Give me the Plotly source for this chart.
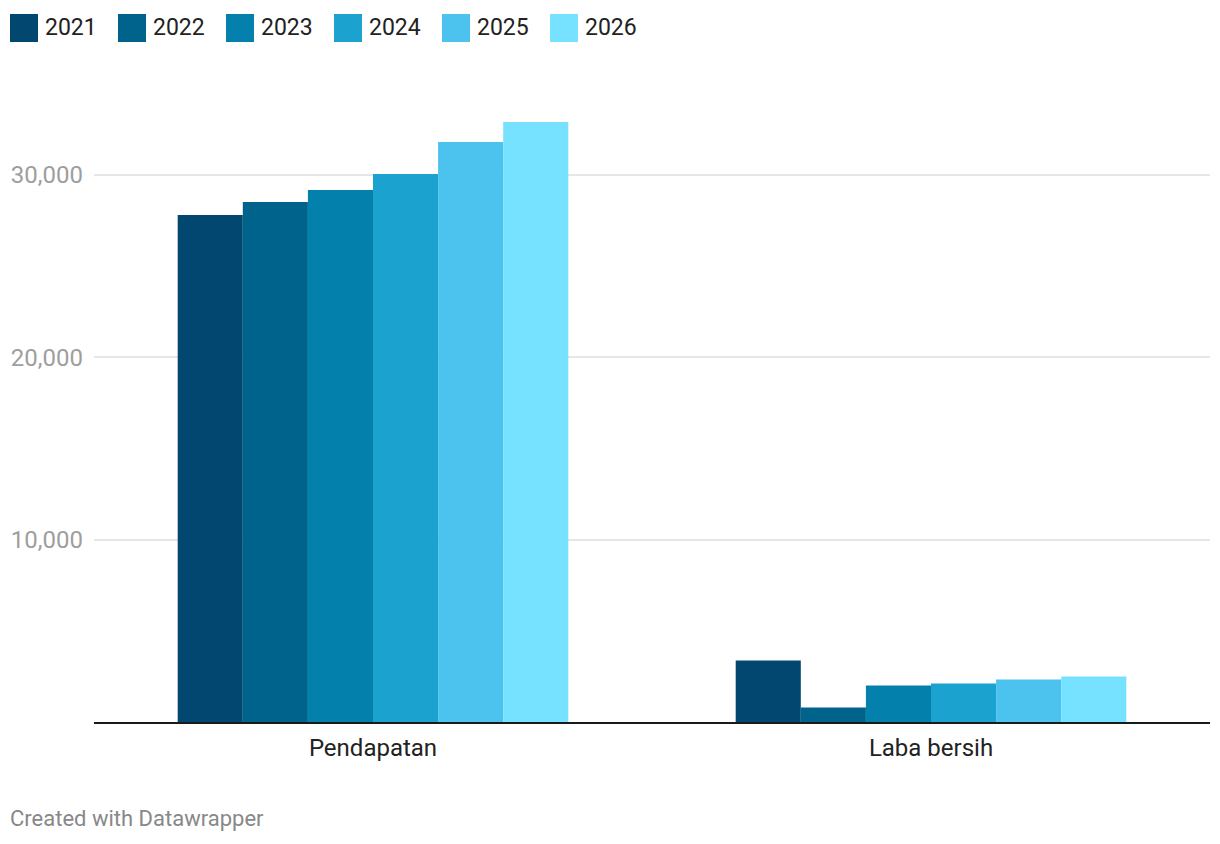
import plotly.graph_objects as go

categories = ["Pendapatan", "Laba bersih"]
years = ["2021", "2022", "2023", "2024", "2025", "2026"]
values_2021 = [27800, 3370]
values_2022 = [28510, 790]
values_2023 = [29170, 2000]
values_2024 = [30050, 2110]
values_2025 = [31810, 2330]
values_2026 = [32900, 2500]
series = [values_2021, values_2022, values_2023, values_2024, values_2025, values_2026]
colors = ["#02476f", "#00638b", "#0380ab", "#1ba2cf", "#4cc2ee", "#77e2ff"]
y_ticks = [10000, 20000, 30000]
y_tick_labels = ["10,000", "20,000", "30,000"]

W, H = 1220, 844
L, R, T, B = 94, 10, 102, 122
PW, PH = W - L - R, H - T - B


def px_x(p):
    return (p - L) / PW


def px_y(p):
    return (H - B - p) / PH


fig = go.Figure()
for yr, vals, col in zip(years, series, colors):
    fig.add_trace(go.Bar(name=yr, x=categories, y=vals, marker=dict(color=col, line=dict(width=0)),
                         showlegend=False))

shapes = []
annotations = []
for i, (yr, col) in enumerate(zip(years, colors)):
    x0 = 10 + i * 108
    shapes.append(dict(type="rect", xref="paper", yref="paper",
                       x0=px_x(x0), x1=px_x(x0 + 28), y0=px_y(42), y1=px_y(14),
                       fillcolor=col, line=dict(width=0)))
    annotations.append(dict(text=yr, xref="paper", yref="paper", x=px_x(x0 + 33), y=px_y(27),
                            xanchor="left", yanchor="middle", showarrow=False,
                            font=dict(family="Roboto", size=23, color="#222222")))

annotations.append(dict(text="Created with Datawrapper", xref="paper", yref="paper",
                        x=px_x(8), y=px_y(818), xanchor="left", yanchor="middle", showarrow=False,
                        font=dict(family="Roboto", size=22, color="#888888")))

fig.update_layout(
    width=W, height=H,
    margin=dict(l=L, r=R, t=T, b=B, pad=0),
    paper_bgcolor="white", plot_bgcolor="white",
    barmode="group", bargap=0.3, bargroupgap=0,
    font=dict(family="Roboto", size=24, color="#222222"),
    shapes=shapes, annotations=annotations,
    xaxis=dict(showgrid=False, showline=True, linecolor="#1a1a1a", linewidth=2,
               ticks="", tickfont=dict(size=24, color="#222222"), ticklabelstandoff=3,
               zeroline=False),
    yaxis=dict(range=[0, 34000], tickvals=y_ticks, ticktext=y_tick_labels,
               showgrid=True, gridcolor="#e6e6e6", gridwidth=2, zeroline=False,
               showline=False, ticks="", ticklabelstandoff=10,
               tickfont=dict(size=24, color="#9e9e9e")),
)

fig.write_html("out.html")
